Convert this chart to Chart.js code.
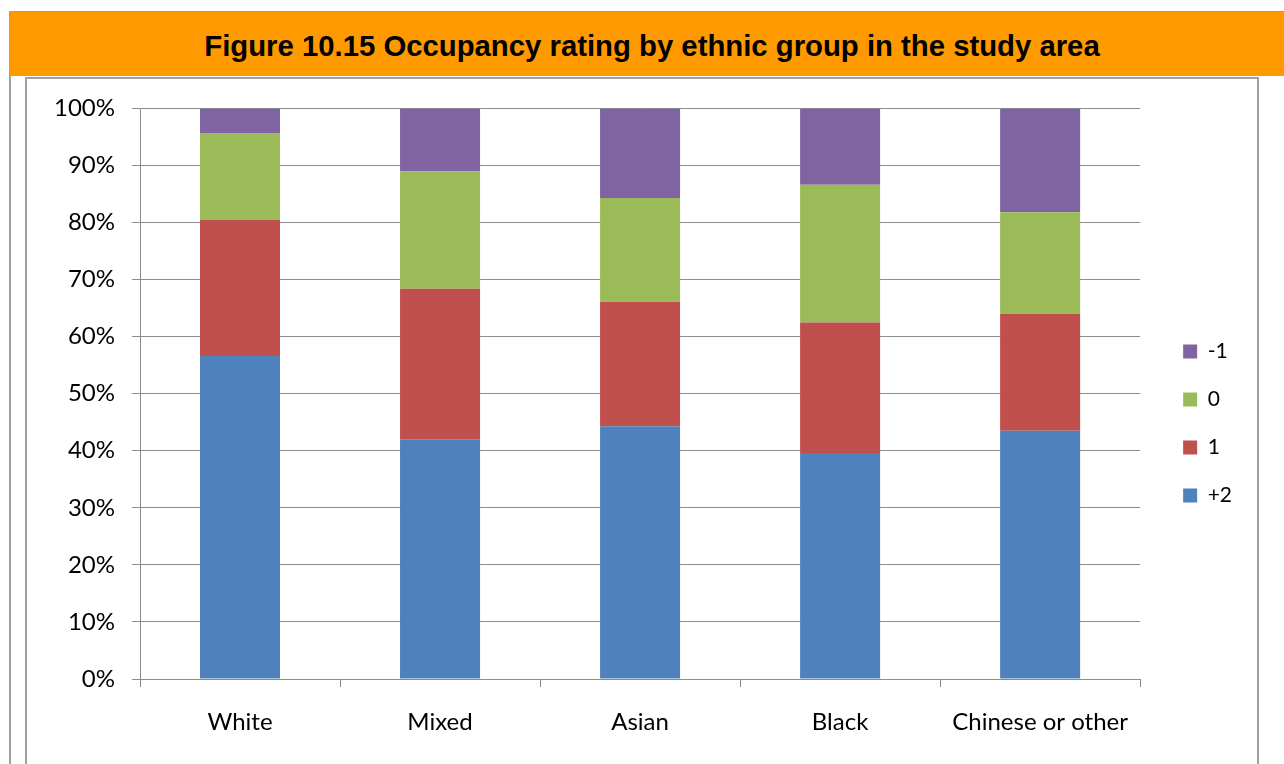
<!DOCTYPE html>
<html>
<head>
<meta charset="utf-8">
<script src="https://cdn.jsdelivr.net/npm/chart.js@4"></script>
<style>
  body { margin: 0; background: #fff; width: 1284px; height: 764px; overflow: hidden; position: relative; }
  #outer { position: absolute; left: 9px; top: 11px; right: -10px; bottom: -10px; border-left: 2px solid #a0a0a0; border-top: 2px solid #a0a0a0; }
  #header { position: absolute; left: 10px; top: 12px; width: 1264px; padding-left: 10px; height: 64px; background: #ff9900;
    font: bold 29.3px "Liberation Sans", Arial, sans-serif; color: #000; text-align: center; line-height: 68px; }
  #inner { position: absolute; left: 25px; top: 77px; width: 1230px; height: 700px; border: 2px solid #a0a0a0; border-bottom: none; }
  #wrap { position: absolute; left: 28px; top: 77px; width: 1228px; height: 687px; }
</style>
</head>
<body>
<div id="outer"></div>
<div id="header">Figure 10.15 Occupancy rating by ethnic group in the study area</div>
<div id="inner"></div>
<div id="wrap"><canvas id="chart"></canvas></div>
<script>
  const groups = ['White', 'Mixed', 'Asian', 'Black', 'Chinese or other'];
  const plusTwo = [56.6, 42.0, 44.3, 39.6, 43.5];
  const plusOne = [23.9, 26.4, 21.8, 22.9, 20.5];
  const zero = [15.2, 20.6, 18.2, 24.1, 17.8];
  const minusOne = [4.3, 11.0, 15.7, 13.4, 18.2];
  const yTicks = [0, 10, 20, 30, 40, 50, 60, 70, 80, 90, 100];

  const gridGray = '#8c8c8c';
  const font = { family: 'Lato, "Open Sans", sans-serif', size: 24 };

  // nudge the legend so it sits where the original one does
  const legendShift = {
    id: 'legendShift',
    afterLayout(chart) {
      chart.legend.left += 16;
      chart.legend.right += 16;
    }
  };

  const ctx = document.getElementById('chart').getContext('2d');
  new Chart(ctx, {
    type: 'bar',
    data: {
      labels: groups,
      datasets: [
        { label: '+2', data: plusTwo, backgroundColor: '#4f81bd' },
        { label: '1', data: plusOne, backgroundColor: '#c0504d' },
        { label: '0', data: zero, backgroundColor: '#9bbb59' },
        { label: '-1', data: minusOne, backgroundColor: '#8064a2' }
      ]
    },
    plugins: [legendShift],
    options: {
      responsive: true,
      maintainAspectRatio: false,
      animation: false,
      layout: { padding: { top: 27, right: 30, left: 0, bottom: 21 } },
      datasets: { bar: { barPercentage: 0.4, categoryPercentage: 1 } },
      plugins: {
        tooltip: { enabled: false },
        legend: {
          position: 'right',
          reverse: true,
          labels: { boxWidth: 14, boxHeight: 14, padding: 27, color: '#000', font: { family: font.family, size: 21 } }
        }
      },
      scales: {
        x: {
          stacked: true,
          offset: true,
          grid: { offset: true, drawOnChartArea: false, drawTicks: true, tickLength: 8, color: gridGray },
          border: { color: gridGray },
          ticks: { color: '#000', font: font, padding: 21 },
          afterFit: scale => { scale.height = 64; }
        },
        y: {
          stacked: true,
          min: 0,
          max: 100,
          afterBuildTicks: scale => { scale.ticks = yTicks.map(v => ({ value: v })); },
          grid: { color: gridGray, tickLength: 8 },
          border: { color: gridGray },
          ticks: { color: '#000', font: font, padding: 17, callback: v => v + '%' },
          afterFit: scale => { scale.width = 112; }
        }
      }
    }
  });
</script>
</body>
</html>
